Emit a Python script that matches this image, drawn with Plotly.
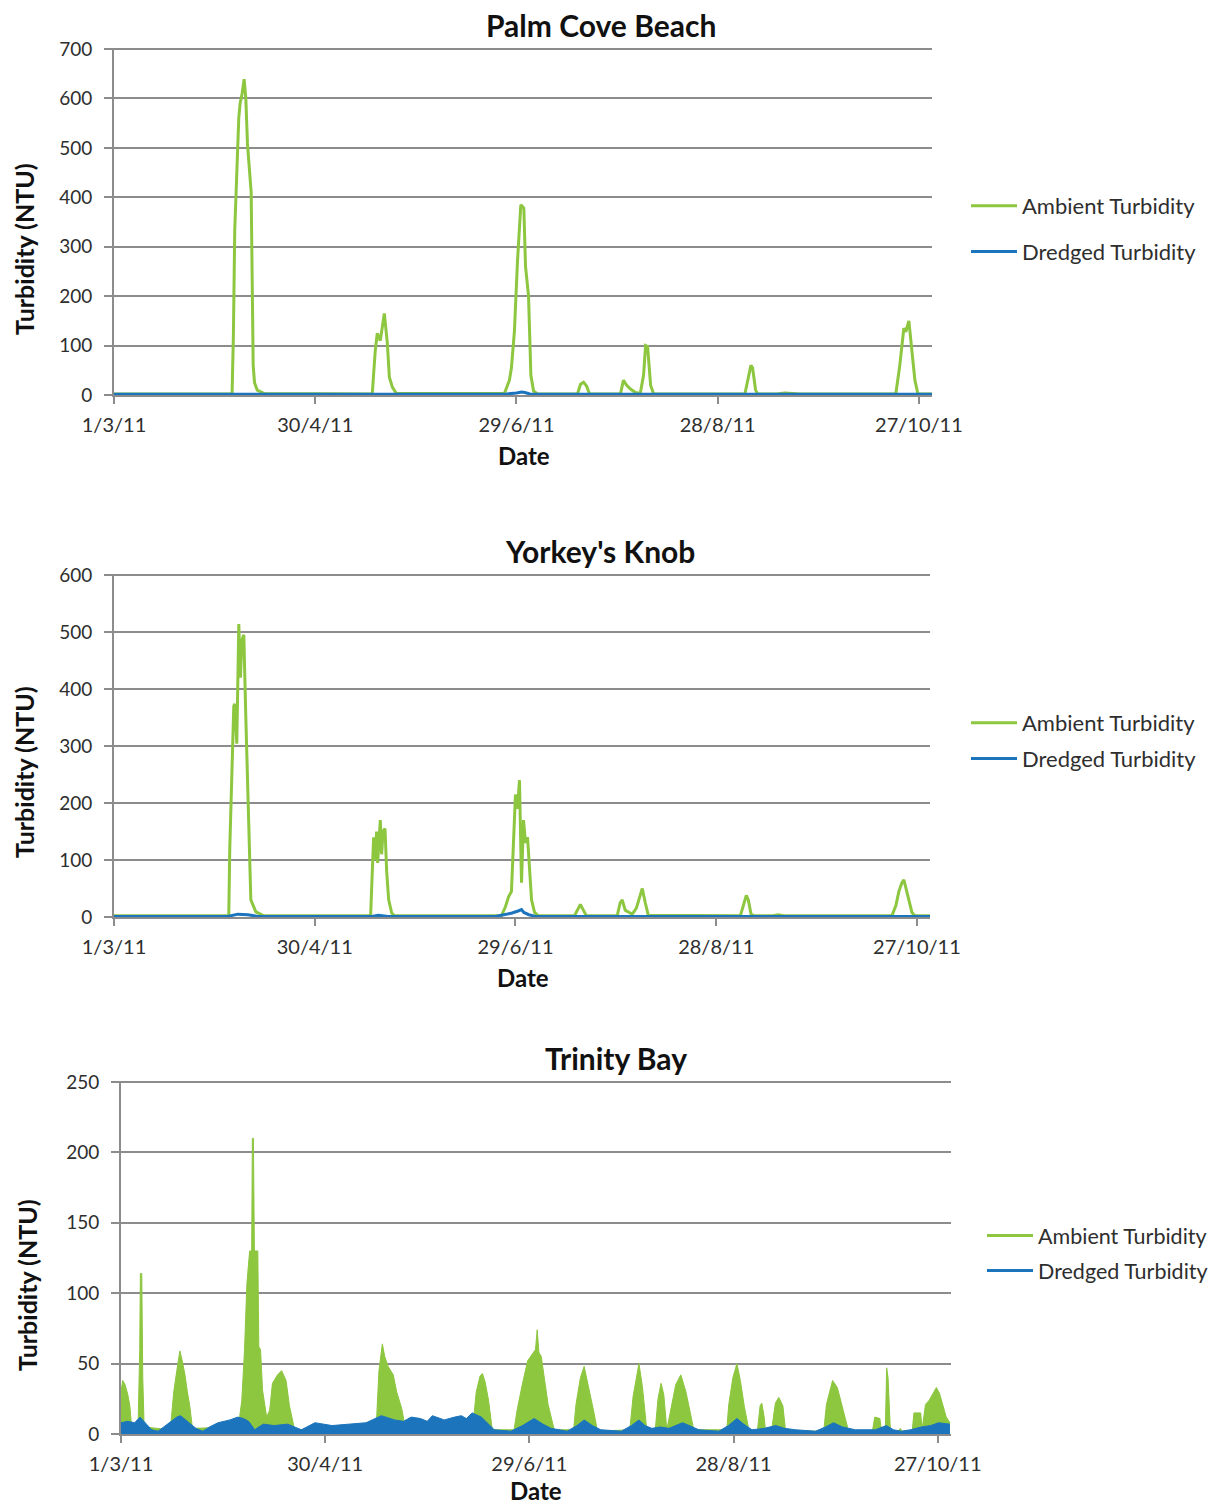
import pandas as pd
import plotly.graph_objects as go

START = pd.Timestamp("2011-03-01")
END_DAY = 243.9

# ---------------- data (day offsets from 1 Mar 2011, turbidity NTU) ----------------
pc_amb_day = [0, 35.2, 35.6, 36.0, 37.2, 37.6, 38.2, 38.8, 39.3, 39.8, 40.9, 41.2, 41.5, 41.9, 42.7, 44.8,
              77.0, 77.9, 78.5, 79.4, 80.6, 81.5, 82.1, 83.0, 84.2,
              116.4, 117.9, 118.5, 119.4, 120.3, 120.9, 121.3, 122.2, 122.7, 123.6, 124.3, 125.1, 126.3,
              138.2, 139.1, 140.0, 140.9, 141.8,
              151.0, 151.9, 152.8, 154.0, 155.5, 156.9, 157.9, 158.5, 159.1, 160.0, 160.9,
              188.1, 189.3, 189.9, 190.4, 191.3, 191.9,
              197.6, 200.0, 203.0, 204.5,
              233.1, 234.3, 235.5, 236.1, 237.0, 237.9, 238.8, 239.7, 243.9]
pc_amb_val = [2, 2, 120, 333, 560, 590, 610, 639, 600, 508, 410, 200, 60, 25, 10, 3,
              2, 90, 125, 110, 165, 105, 36, 16, 3,
              3, 30, 55, 130, 270, 330, 385, 378, 260, 200, 40, 8, 2,
              2, 22, 26, 18, 2,
              2, 30, 20, 12, 5, 3, 40, 100, 98, 20, 2,
              2, 45, 60, 55, 10, 2,
              2, 4, 3, 2,
              2, 60, 135, 128, 150, 95, 30, 2, 2]
pc_dre_day = [0, 35, 38, 41, 78, 80, 82, 117, 120, 121.5, 122.5, 124, 126, 243.9]
pc_dre_val = [1.5, 1.5, 3, 1.5, 2, 3, 1.5, 2, 4, 6, 5, 2, 1.5, 1.5]

yk_amb_day = [0, 34.3, 34.6, 35.2, 35.8, 36.1, 36.7, 37.3, 37.8, 38.2, 38.8, 39.4, 40.0, 40.4, 40.9, 42.4, 44.8,
              76.7, 77.3, 77.6, 78.1, 78.5, 78.8, 79.6, 80.0, 80.4, 81.0, 81.5, 82.1, 83.0, 83.9,
              115.8, 117.0, 117.9, 118.8, 119.4, 120.0, 120.6, 120.9, 121.2, 121.5, 121.8, 122.4, 123.0, 123.6,
              124.2, 124.8, 125.7, 126.9,
              137.6, 138.8, 139.4, 140.3, 141.2,
              150.4, 151.3, 151.9, 152.8, 154.0, 154.9, 156.1, 157.0, 157.9, 158.8, 159.7,
              187.2, 188.4, 189.0, 189.6, 190.4, 191.3,
              196.4, 198.5, 200.6,
              232.5, 233.7, 234.6, 235.5, 236.1, 236.7, 237.6, 238.5, 239.4, 243.9]
yk_amb_val = [2, 2, 120, 252, 370, 374, 304, 514, 420, 485, 495, 350, 205, 120, 30, 9, 2,
              2, 110, 140, 100, 150, 95, 170, 110, 150, 155, 80, 30, 7, 2,
              2, 18, 35, 45, 120, 215, 190, 225, 240, 150, 60, 170, 130, 140,
              80, 30, 8, 2,
              2, 15, 22, 12, 2,
              2, 25, 30, 12, 8, 5, 15, 35, 50, 25, 3,
              2, 25, 38, 30, 5, 2,
              2, 4, 2,
              2, 20, 45, 60, 65, 50, 30, 8, 2, 2]
yk_dre_day = [0, 34, 37, 40, 43, 56, 58, 60, 77, 79, 82, 114, 117, 119, 121, 121.8, 122.5, 124, 126, 243.9]
yk_dre_val = [1, 1, 5, 4, 1, 1, 2, 1, 1, 3, 1, 1, 4, 7, 11, 13, 8, 4, 1, 1]

tb_amb_day = [0, 0.5, 1.2, 2, 2.6, 3.2, 5.0, 5.5, 5.7, 6.1, 6.4, 6.8, 14.5, 15.5, 16.4, 17.3, 18, 18.8, 19.5,
              20.2, 21,
              34.5, 35.5, 36.3, 37.0, 37.8, 38.4, 38.6, 38.9, 39.2, 40.2, 40.5, 41.0, 41.6, 42.8, 43.7, 44.5,
              46, 47.2, 48.5, 49.5, 50.1, 51,
              75, 75.8, 76.8, 77.5, 78.5, 80, 81, 82.5, 83.5,
              103.5, 104.4, 105.5, 106.2, 107, 108, 109.1,
              115.5, 116.4, 118, 119.5, 121.8, 122.3, 122.8, 123.5, 124.5, 125.5, 127.3,
              133, 133.7, 135, 136.1, 137.5, 139, 140,
              149.5, 150.5, 152.2, 153.2, 154.5, 157, 157.8, 158.7, 159.5, 160.4, 161.9, 163, 164.5, 166,
              167.3, 168.3,
              178, 178.6, 179.8, 181, 182, 183.2, 184.5, 187, 187.8, 188.3, 189, 189.4, 191.2, 192.3, 193.3,
              194.5, 195.3, 206.5, 207.3, 209.1, 210.5, 212, 213.8,
              220.8, 221.5, 223, 223.5, 224.6, 225.0, 225.4, 226.1, 228.5, 229, 229.5, 232.5, 233, 235,
              235.4, 236.4, 237.5, 238.5, 239.6, 240.5, 241.5, 242.5, 243.6]
tb_amb_val = [30, 38, 35, 28, 20, 3, 4, 60, 114, 114, 40, 5, 3, 30, 45, 59, 52, 42, 30,
              20, 4,
              5, 24, 60, 107, 130, 130, 210, 210, 130, 130, 62, 60, 31, 12, 17, 36,
              42, 45, 38, 20, 13, 3,
              5, 45, 64, 55, 48, 42, 30, 18, 5,
              8, 30, 41, 43, 37, 24, 3,
              3, 17, 36, 52, 60, 74, 58, 55, 38, 21, 3,
              3, 21, 40, 48, 33, 15, 2,
              3, 27, 50, 34, 3, 3, 25, 36, 28, 3, 20, 35, 42, 30,
              15, 3,
              3, 21, 40, 50, 38, 19, 3, 2, 20, 22, 12, 2, 3, 22, 26,
              20, 2, 2, 21, 38, 33, 19, 2,
              2, 12, 11, 2, 3, 47, 40, 2, 2, 4, 2, 2, 15, 15,
              3, 21, 24, 28, 33, 29, 20, 12, 8]
tb_dre_day = [0, 2, 4, 5.6, 7.5, 9, 10.9, 13, 16.4, 17.5, 20, 22, 24, 26, 28.5, 32, 34.3, 36, 37.5, 39.3,
              40.5, 41.8, 45, 49, 53, 57, 62, 66.6, 72, 76.5, 79, 80.4, 83, 85.3, 88, 90, 91.5, 95, 98,
              100, 101.5, 103.2, 105.9, 108, 109.7, 114.6, 118, 121.4, 124, 126.4, 131.1, 134, 136.1, 138.5,
              141, 147, 150, 152.2, 154, 156, 158.5, 161, 163, 165, 167, 169.8, 175.7, 178.5, 181, 183, 185.4,
              189, 192.4, 195, 198.2, 204.1, 207, 209.4, 212, 215.8, 221.7, 224.9, 227, 229.3, 232, 235.2, 238,
              240.2, 243.6]
tb_dre_val = [8, 9, 8, 12, 7, 3, 2, 6, 12, 13, 8, 4, 2, 5, 8, 10, 12, 11, 9, 3,
              5, 7, 6, 7, 3, 8, 6, 7, 8, 13, 11, 10, 9, 12, 11, 9, 13, 10, 12,
              13, 11, 15, 12, 7, 3, 2, 6, 11, 7, 4, 2, 6, 10, 6,
              3, 2, 6, 10, 6, 4, 5, 4, 6, 8, 6, 3, 2, 6, 11, 7, 3,
              4, 6, 4, 3, 2, 5, 8, 5, 3, 3, 6, 3, 2, 3, 5, 6,
              8, 7]

tick_days = [0, 60, 120, 180, 240]
tick_text = ["1/3/11", "30/4/11", "29/6/11", "28/8/11", "27/10/11"]

titles = ["Palm Cove Beach", "Yorkey's Knob", "Trinity Bay"]
y_max = [700, 600, 250]
y_step = [100, 100, 50]
series_names = ["Ambient Turbidity", "Dredged Turbidity"]

GREEN = "#8DC63F"
BLUE = "#1C75BC"
GRID = "#8C8C8C"
FONT = "Lato"
TXT = "#2e2e2e"


def to_dates(days):
    return START + pd.to_timedelta(days, unit="D")


# the page has an 8px default body margin; size the figure to the visible area
OFF = 8
W, H = 1221 - OFF, 1504 - OFF


def px(xp):
    return (xp - OFF) / W


def py(yp):
    return 1 - (yp - OFF) / H


fig = go.Figure()

# panel geometry in reference pixels: (left, right, top, bottom)
panels = [(114, 932, 48, 395), (114, 930, 574, 917), (121, 951, 1081, 1434)]
title_pos = [(601, 25), (600, 551), (616, 1058)]
ytitle_pos = [(24, 249), (24, 772), (27, 1285)]
date_pos = [(524, 455), (523, 977), (536, 1490)]
legend_y_px = [229, 741, 1253]
legend_gap = [14, 4, 4]
legend_x_px = [966, 966, 982]
legend_font = [22, 22, 21.5]

data = [(pc_amb_day, pc_amb_val, pc_dre_day, pc_dre_val),
        (yk_amb_day, yk_amb_val, yk_dre_day, yk_dre_val),
        (tb_amb_day, tb_amb_val, tb_dre_day, tb_dre_val)]

legend_ids = ["legend", "legend2", "legend3"]

for i, (ad, av, dd, dv) in enumerate(data):
    xa = "x" if i == 0 else f"x{i+1}"
    ya = "y" if i == 0 else f"y{i+1}"
    lg = legend_ids[i]
    if i < 2:
        fig.add_trace(go.Scatter(x=to_dates(ad), y=av, mode="lines", name=series_names[0],
                                 line=dict(color=GREEN, width=3), xaxis=xa, yaxis=ya,
                                 legend=lg, legendgroup=f"a{i}"))
        fig.add_trace(go.Scatter(x=to_dates(dd), y=dv, mode="lines", name=series_names[1],
                                 line=dict(color=BLUE, width=3), xaxis=xa, yaxis=ya,
                                 legend=lg, legendgroup=f"d{i}"))
    else:
        fig.add_trace(go.Scatter(x=to_dates(ad), y=av, mode="lines", name=series_names[0],
                                 line=dict(color=GREEN, width=1), fill="tozeroy", fillcolor=GREEN,
                                 xaxis=xa, yaxis=ya, showlegend=False))
        fig.add_trace(go.Scatter(x=to_dates(dd), y=dv, mode="lines", name=series_names[1],
                                 line=dict(color=BLUE, width=1), fill="tozeroy", fillcolor=BLUE,
                                 xaxis=xa, yaxis=ya, showlegend=False))
        fig.add_trace(go.Scatter(x=[None], y=[None], mode="lines", name=series_names[0],
                                 line=dict(color=GREEN, width=3), xaxis=xa, yaxis=ya,
                                 legend=lg, legendgroup=f"a{i}"))
        fig.add_trace(go.Scatter(x=[None], y=[None], mode="lines", name=series_names[1],
                                 line=dict(color=BLUE, width=3), xaxis=xa, yaxis=ya,
                                 legend=lg, legendgroup=f"d{i}"))

layout = dict(width=W, height=H, margin=dict(l=0, r=0, t=0, b=0, autoexpand=False),
              paper_bgcolor="white", plot_bgcolor="white",
              font=dict(family=FONT, size=19, color=TXT))

annotations = []

for i, (l, r, t, b) in enumerate(panels):
    xk = "xaxis" if i == 0 else f"xaxis{i+1}"
    yk = "yaxis" if i == 0 else f"yaxis{i+1}"
    ya = "y" if i == 0 else f"y{i+1}"
    xa = "x" if i == 0 else f"x{i+1}"
    layout[xk] = dict(domain=[px(l), px(r)], anchor=ya, type="date", automargin=False,
                      range=[to_dates(0), to_dates(END_DAY)],
                      tickvals=to_dates(tick_days), ticktext=tick_text,
                      showgrid=False, showline=True, linecolor=GRID, linewidth=2,
                      ticks="outside", ticklen=7, tickwidth=1.5, tickcolor=GRID,
                      ticklabelstandoff=4, zeroline=False, layer="below traces",
                      tickfont=dict(family=FONT, size=20, color=TXT), fixedrange=True)
    layout[yk] = dict(domain=[py(b), py(t)], anchor=xa, automargin=False,
                      range=[0, y_max[i] * 1.003], dtick=y_step[i], tick0=0,
                      showgrid=True, gridcolor=GRID, gridwidth=2,
                      showline=True, linecolor=GRID, linewidth=2,
                      ticks="outside", ticklen=8, tickwidth=2, tickcolor=GRID,
                      ticklabelstandoff=8, zeroline=False, layer="below traces",
                      tickfont=dict(family=FONT, size=19, color=TXT), fixedrange=True)
    tx, ty = title_pos[i]
    annotations.append(dict(text=f"<b>{titles[i]}</b>", x=px(tx), y=py(ty),
                            xref="paper", yref="paper",
                            showarrow=False, font=dict(family=FONT, size=30, color="#111111"),
                            xanchor="center", yanchor="middle"))
    dx, dy = date_pos[i]
    annotations.append(dict(text="<b>Date</b>", x=px(dx), y=py(dy),
                            xref="paper", yref="paper", showarrow=False,
                            font=dict(family=FONT, size=24, color="#111111"),
                            xanchor="center", yanchor="middle"))
    yx, yy = ytitle_pos[i]
    annotations.append(dict(text="<b>Turbidity (NTU)</b>", x=px(yx), y=py(yy),
                            xref="paper", yref="paper",
                            showarrow=False, textangle=-90,
                            font=dict(family=FONT, size=25, color="#111111"),
                            xanchor="center", yanchor="middle"))
    lk = legend_ids[i]
    layout[lk] = dict(x=px(legend_x_px[i]), y=py(legend_y_px[i]), xanchor="left", yanchor="middle",
                      bgcolor="rgba(0,0,0,0)", traceorder="grouped", itemwidth=46,
                      tracegroupgap=legend_gap[i], itemclick=False,
                      font=dict(family=FONT, size=legend_font[i], color=TXT))

layout["annotations"] = annotations
layout["showlegend"] = True
fig.update_layout(**layout)

fig.write_html("out.html")
